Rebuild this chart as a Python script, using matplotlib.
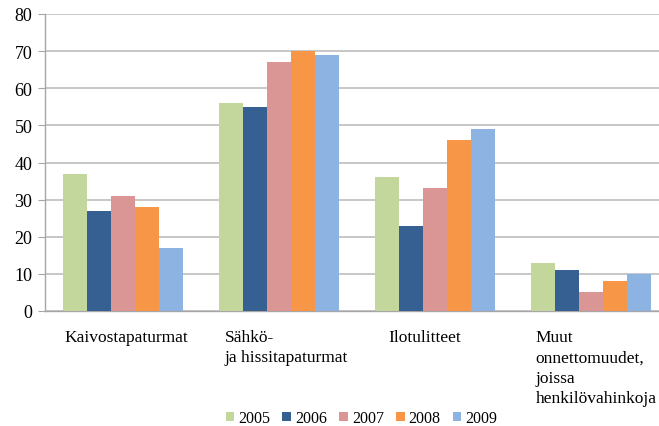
import numpy as np
import matplotlib.pyplot as plt
from matplotlib.transforms import blended_transform_factory, offset_copy

# Categories and yearly values
categories = ["Kaivostapaturmat", "Sähkö-\nja hissitapaturmat", "Ilotulitteet",
              "Muut\nonnettomuudet,\njoissa\nhenkilövahinkoja"]
years = ["2005", "2006", "2007", "2008", "2009"]
v2005 = [37, 56, 36, 13]
v2006 = [27, 55, 23, 11]
v2007 = [31, 67, 33, 5]
v2008 = [28, 70, 46, 8]
v2009 = [17, 69, 49, 10]
series = [v2005, v2006, v2007, v2008, v2009]
colors = ["#c3d69b", "#376092", "#d99694", "#f79646", "#8db3e2"]

# left edge of each wrapped category label, relative to the group centre
label_dx = [-0.375, -0.349, -0.298, -0.356]

plt.rcParams["font.family"] = ["Liberation Serif", "DejaVu Serif"]

fig = plt.figure(figsize=(6.59, 4.27), dpi=100)
ax = fig.add_axes([45 / 659, 1 - 312 / 427, 624 / 659, 297 / 427])

x = np.arange(len(categories))
w = 0.154
for i, (vals, c, yr) in enumerate(zip(series, colors, years)):
    ax.bar(x + (i - 2) * w, vals, width=w, color=c, label=yr, zorder=3)

ax.set_xlim(-0.5, 3.5)
ax.set_ylim(0, 80)
ax.set_yticks(range(0, 81, 10))
ax.yaxis.grid(True, color="#bdbdbd", linewidth=1.2, zorder=0)

for s in ["top", "right"]:
    ax.spines[s].set_visible(False)
for s in ["left", "bottom"]:
    ax.spines[s].set_color("#a6a6a6")
    ax.spines[s].set_linewidth(1.0)

ax.tick_params(axis="y", labelsize=13, length=5, color="#a6a6a6", pad=4)
ax.set_xticks([])

# category labels: wrapped, left aligned lines
trans = offset_copy(blended_transform_factory(ax.transData, ax.transAxes),
                    fig=fig, y=-13, units="points")
for xi, lab, dx in zip(x, categories, label_dx):
    ax.text(xi + dx, 0, lab, transform=trans, ha="left", va="top",
            fontsize=12.5, linespacing=1.36)

fig.legend(loc="center", bbox_to_anchor=(361.5 / 659, 1 - 419 / 427), ncol=5,
           frameon=False, fontsize=11.5, handlelength=0.55, handleheight=0.55,
           handletextpad=0.25, columnspacing=0.75)

fig.savefig("out.png", dpi=100)
